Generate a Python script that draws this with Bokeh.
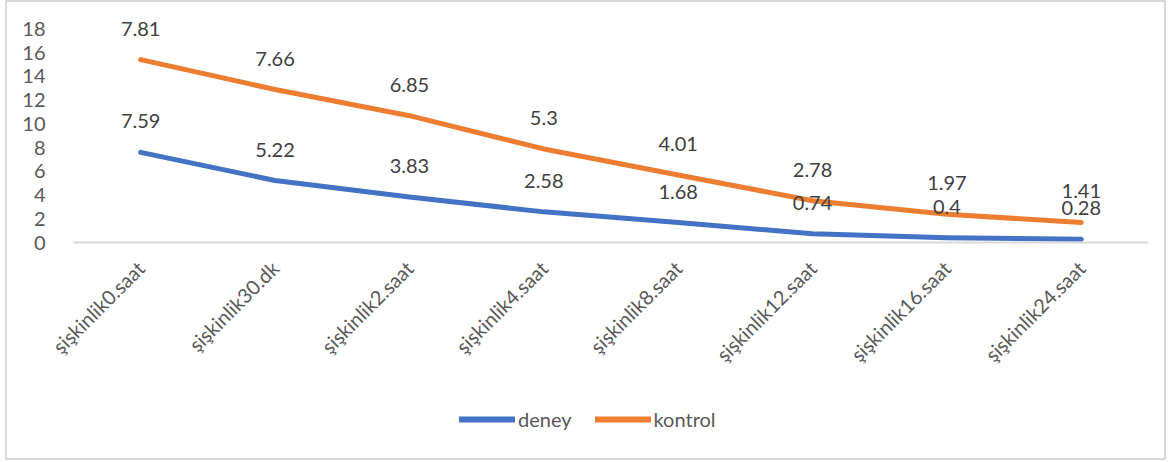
import numpy as np
from bokeh.plotting import figure
from bokeh.layouts import column
from bokeh.models import FactorRange, Range1d, Legend, LegendItem, ColumnDataSource, FixedTicker
from bokeh.core.properties import value
from bokeh.embed import file_html
from bokeh.resources import INLINE
import math

categories = ["şişkinlik0.saat", "şişkinlik30.dk", "şişkinlik2.saat", "şişkinlik4.saat",
              "şişkinlik8.saat", "şişkinlik12.saat", "şişkinlik16.saat", "şişkinlik24.saat"]
deney = [7.59, 5.22, 3.83, 2.58, 1.68, 0.74, 0.4, 0.28]
kontrol = [7.81, 7.66, 6.85, 5.3, 4.01, 2.78, 1.97, 1.41]
y_ticks = [0, 2, 4, 6, 8, 10, 12, 14, 16, 18]
series_names = ["deney", "kontrol"]

FONT = "Lato"
BLUE = "#4472C4"
ORANGE = "#ED7D31"
TXT = "#404040"
W = 1157

kontrol_top = list(np.array(deney) + np.array(kontrol))

src = ColumnDataSource(dict(
    x=categories, deney=deney, kontrol=kontrol, ktop=kontrol_top,
    dlab=[f"{v:g}" for v in deney], klab=[f"{v:g}" for v in kontrol],
))

p = figure(frame_width=1075, frame_height=228, output_backend="svg", toolbar_location=None,
           x_range=FactorRange(*categories, range_padding=0),
           y_range=Range1d(0, 19.2),
           min_border_left=66, min_border_right=16, min_border_top=12, min_border_bottom=150)
p.outline_line_color = None
p.xgrid.grid_line_color = None
p.ygrid.grid_line_color = None
p.background_fill_color = "white"
p.border_fill_color = "white"

p.line("x", "deney", source=src, line_color=BLUE, line_width=5, line_cap="round", line_join="round")
p.line("x", "ktop", source=src, line_color=ORANGE, line_width=5, line_cap="round", line_join="round")

p.text("x", "deney", text="dlab", source=src, y_offset=-31, text_align="center",
       text_baseline="middle", text_font=value(FONT), text_font_size="20px", text_color=TXT)
p.text("x", "ktop", text="klab", source=src, y_offset=-31, text_align="center",
       text_baseline="middle", text_font=value(FONT), text_font_size="20px", text_color=TXT)

p.yaxis.ticker = FixedTicker(ticks=y_ticks)
p.yaxis.axis_line_color = None
p.yaxis.major_tick_line_color = None
p.yaxis.minor_tick_line_color = None
p.yaxis.major_label_standoff = 22
p.yaxis.major_label_text_font = FONT
p.yaxis.major_label_text_font_size = "20px"
p.yaxis.major_label_text_color = "#595959"

p.xaxis.axis_line_color = "#d9d9d9"
p.xaxis.axis_line_width = 2
p.xaxis.major_tick_line_color = None
p.xaxis.minor_tick_line_color = None
p.xaxis.major_label_orientation = math.pi / 4
p.xaxis.major_label_standoff = 16
p.xaxis.major_label_text_font = FONT
p.xaxis.major_label_text_font_size = "20px"
p.xaxis.major_label_text_color = "#595959"

# legend strip (series drawn out of view; only the legend shows)
q = figure(width=W, height=66, output_backend="svg", toolbar_location=None,
           x_range=FactorRange(*categories), y_range=Range1d(100, 101),
           x_axis_location=None, y_axis_location=None, min_border=0)
q.grid.grid_line_color = None
q.outline_line_color = None
q.border_fill_color = "white"
l1 = q.line("x", "deney", source=src, line_color=BLUE, line_width=6, line_cap="round")
l2 = q.line("x", "ktop", source=src, line_color=ORANGE, line_width=6, line_cap="round")
legend = Legend(items=[LegendItem(label=series_names[0], renderers=[l1]),
                       LegendItem(label=series_names[1], renderers=[l2])],
                orientation="horizontal", location=(386, 27),
                label_text_font=FONT, label_text_font_size="20px", label_text_color="#595959",
                glyph_width=56, glyph_height=20, spacing=23, label_standoff=3,
                border_line_color=None, background_fill_alpha=0, margin=0, padding=0)
q.add_layout(legend, "center")

layout = column(p, q, spacing=0,
                styles={"border": "2px solid #d9d9d9", "margin-left": "5px"})

open("out.html", "w").write(file_html(layout, INLINE))
